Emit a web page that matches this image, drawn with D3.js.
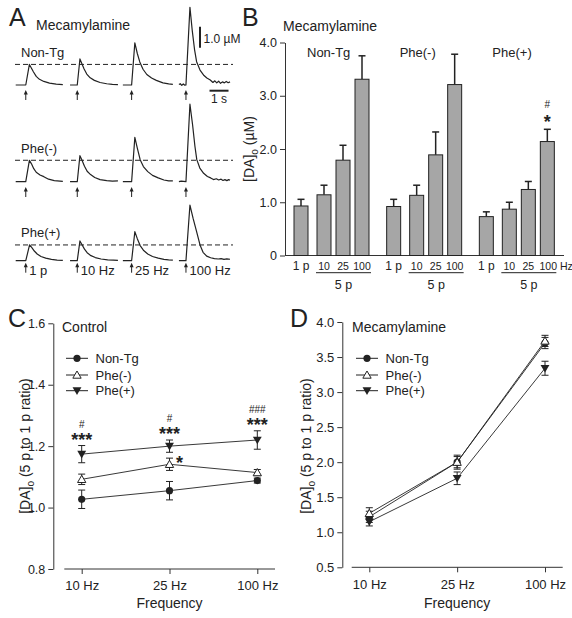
<!DOCTYPE html>
<html><head><meta charset="utf-8">
<script src="https://cdn.jsdelivr.net/npm/d3@7"></script>
<style>
body{margin:0;background:#fff;}
svg{display:block;font-family:"Liberation Sans",Arial,Helvetica,sans-serif;}
</style>
</head><body>
<svg id="fig" width="572" height="618"></svg>
<script>
// ---------------- DATA ----------------
// Panel A: traces, [time rel. to stimulus (s), [DA]o (µM)]
const traceGroups = ["Non-Tg", "Phe(-)", "Phe(+)"];
const stimLabels = ["1 p", "10 Hz", "25 Hz", "100 Hz"];
const stimOnsets = [0.53, 3.24, 6.1, 8.96]; // s
const tracesNonTg = [
  [[-0.53,0],[0,0],[0.19,0.98],[0.3,0.8],[0.4,0.63],[0.55,0.41],[0.72,0.27],[0.95,0.17],[1.25,0.09],[1.6,0.04],[1.95,0.02]],
  [[-0.38,0],[0,0],[0.14,1.24],[0.25,1.0],[0.36,0.76],[0.5,0.52],[0.68,0.34],[0.9,0.22],[1.2,0.12],[1.55,0.06],[1.85,0.03],[2.14,0.02]],
  [[-0.46,0],[0,0],[0.17,2.01],[0.3,1.5],[0.43,1.1],[0.6,0.75],[0.8,0.5],[1.05,0.33],[1.3,0.22],[1.65,0.1],[1.95,0.05],[2.17,0.03]],
  [[-0.37,0.02],[-0.3,0.06],[-0.22,-0.02],[-0.14,0.05],[-0.06,-0.01],[0,0],[0.21,3.7],[0.33,2.6],[0.45,1.7],[0.56,1.11],[0.74,0.71],[0.95,0.45],[1.1,0.33],[1.28,0.24],[1.42,0.12],[1.52,0.2],[1.62,0.1],[1.72,0.18],[1.82,0.08],[1.92,0.15],[2.02,0.1],[2.12,0.17],[2.22,0.11],[2.32,0.15]]
];
const tracesPheMinus = [
  [[-0.53,0],[0,0],[0.19,1.02],[0.3,0.85],[0.42,0.62],[0.55,0.45],[0.75,0.32],[0.95,0.24],[1.2,0.12],[1.5,0.05],[1.95,0.02]],
  [[-0.38,0],[0,0],[0.14,1.24],[0.25,1.02],[0.38,0.74],[0.52,0.5],[0.7,0.34],[0.92,0.2],[1.2,0.1],[1.55,0.05],[1.85,0.03],[2.14,0.04]],
  [[-0.46,0],[0,0],[0.17,2.11],[0.3,1.6],[0.45,1.05],[0.62,0.72],[0.85,0.48],[1.1,0.3],[1.4,0.18],[1.7,0.08],[1.95,0.04],[2.17,0.04]],
  [[-0.37,0],[-0.25,0.03],[0,0],[0.21,3.69],[0.35,2.7],[0.47,1.7],[0.57,1.05],[0.73,0.65],[0.93,0.4],[1.13,0.25],[1.3,0.18],[1.45,0.1],[1.6,0.14],[1.72,0.08],[1.85,0.12],[1.95,0.06],[2.05,0.1],[2.15,0.05],[2.25,0.1],[2.32,0.07]]
];
const tracesPhePlus = [
  [[-0.53,0],[0,0],[0.2,0.75],[0.32,0.62],[0.45,0.46],[0.6,0.32],[0.8,0.2],[1.05,0.12],[1.35,0.06],[1.65,0.03],[1.95,0.02]],
  [[-0.38,0],[0,0],[0.14,0.94],[0.25,0.76],[0.38,0.55],[0.52,0.38],[0.72,0.24],[0.95,0.15],[1.25,0.08],[1.6,0.04],[1.9,0.03],[2.14,0.02]],
  [[-0.46,0],[0,0],[0.17,1.38],[0.3,1.05],[0.45,0.72],[0.62,0.5],[0.85,0.32],[1.1,0.2],[1.4,0.12],[1.7,0.06],[1.95,0.04],[2.17,0.03]],
  [[-0.37,0],[0,0],[0.21,2.65],[0.38,2.0],[0.56,1.38],[0.74,0.75],[0.9,0.4],[1.09,0.22],[1.3,0.14],[1.5,0.1],[1.7,0.08],[1.85,0.1],[2.0,0.06],[2.15,0.09],[2.32,0.07]]
];

// Panel B: bars, [DA]o (µM)
const barGroups = ["Non-Tg", "Phe(-)", "Phe(+)"];
const barConds = ["1 p", "10", "25", "100"];
const barNonTg = [0.93, 1.14, 1.79, 3.31];
const barNonTgErr = [0.125, 0.18, 0.28, 0.44];
const barPheMinus = [0.92, 1.13, 1.89, 3.21];
const barPheMinusErr = [0.135, 0.19, 0.43, 0.57];
const barPhePlus = [0.73, 0.87, 1.24, 2.14];
const barPhePlusErr = [0.09, 0.13, 0.15, 0.23];
const barTicks = [0, 1, 2, 3, 4];

// Panels C & D: ratio 5 p / 1 p
const freqs = ["10 Hz", "25 Hz", "100 Hz"];
const ctrlNonTg = [1.027, 1.055, 1.088];
const ctrlNonTgErr = [0.03, 0.03, 0.008];
const ctrlPheMinus = [1.092, 1.141, 1.114];
const ctrlPheMinusErr = [0.017, 0.02, 0.01];
const ctrlPhePlus = [1.174, 1.2, 1.22];
const ctrlPhePlusErr = [0.028, 0.02, 0.03];
const ctrlTicks = [0.8, 1.0, 1.2, 1.4, 1.6];
const ctrlHash = ["#", "#", "###"];
const mecNonTg = [1.22, 2.0, 3.7];
const mecNonTgErr = [0.08, 0.08, 0.08];
const mecPheMinus = [1.27, 2.0, 3.73];
const mecPheMinusErr = [0.08, 0.1, 0.08];
const mecPhePlus = [1.15, 1.77, 3.34];
const mecPhePlusErr = [0.06, 0.09, 0.1];
const mecTicks = [0.5, 1.0, 1.5, 2.0, 2.5, 3.0, 3.5, 4.0];

// ---------------- DRAW ----------------
const INK = "#222";
const AX = "#333";
const svg = d3.select("#fig");

function txt(g, x, y, s, o = {}) {
  const t = g.append("text").attr("x", x).attr("y", y).text(s)
    .attr("font-size", o.size || 13).attr("fill", o.fill || INK)
    .attr("text-anchor", o.anchor || "start");
  if (o.weight) t.attr("font-weight", o.weight);
  return t;
}
function daLabel(g, x, y, rest, size) {
  const t = g.append("text").attr("transform", `translate(${x},${y}) rotate(-90)`)
    .attr("text-anchor", "middle").attr("font-size", size).attr("fill", INK);
  t.append("tspan").text("[DA]");
  t.append("tspan").text("o").attr("font-size", size * 0.72).attr("dy", 4);
  t.append("tspan").text(" " + rest).attr("dy", -4);
}

// ===== Panel A =====
const gA = svg.append("g");
txt(gA, 9, 26, "A", {size: 25});
txt(gA, 36, 30, "Mecamylamine", {size: 14});
const aX = d3.scaleLinear().domain([0, 11.32]).range([15.7, 230.8]);
const rowBase = [85, 181.7, 260.7];
const rowLabelY = [57, 153, 237];
const arrowTop = [90, 187, 262.7];
const rowTraces = [tracesNonTg, tracesPheMinus, tracesPhePlus];
rowTraces.forEach((traces, r) => {
  const y = d3.scaleLinear().domain([0, 1]).range([rowBase[r], rowBase[r] - 21]);
  const ref = d3.max(traces[0], d => d[1]);
  gA.append("line").attr("x1", 15).attr("x2", 233).attr("y1", y(ref)).attr("y2", y(ref))
    .attr("stroke", INK).attr("stroke-width", 1).attr("stroke-dasharray", "5,3");
  traces.forEach((tr, i) => {
    const line = d3.line().x(d => aX(stimOnsets[i] + d[0])).y(d => y(d[1]));
    gA.append("path").attr("d", line(tr)).attr("fill", "none").attr("stroke", INK)
      .attr("stroke-width", 1.2).attr("stroke-linejoin", "round");
  });
  txt(gA, 21, rowLabelY[r], traceGroups[r], {size: 13});
  stimOnsets.forEach((s, i) => {
    const x = aX(s), t = arrowTop[r];
    gA.append("line").attr("x1", x).attr("x2", x).attr("y1", t + 3).attr("y2", t + 10)
      .attr("stroke", INK).attr("stroke-width", 1);
    gA.append("path").attr("d", `M${x - 2},${t + 4.5}L${x + 2},${t + 4.5}L${x},${t}Z`).attr("fill", INK);
    if (r === 2) txt(gA, x + 3.5, 274.5, stimLabels[i], {size: 13});
  });
});
// scale bars
{
  const y0 = d3.scaleLinear().domain([0, 1]).range([47.7, 26.7]);
  gA.append("line").attr("x1", 200).attr("x2", 200).attr("y1", y0(0)).attr("y2", y0(1))
    .attr("stroke", INK).attr("stroke-width", 2);
  txt(gA, 203.5, 43, "1.0 µM", {size: 12});
  gA.append("line").attr("x1", aX(10.2)).attr("x2", aX(11.2)).attr("y1", 90.7).attr("y2", 90.7)
    .attr("stroke", INK).attr("stroke-width", 2);
  txt(gA, (aX(10.2) + aX(11.2)) / 2, 103, "1 s", {size: 12, anchor: "middle"});
}

// ===== Panel B =====
const gB = svg.append("g");
txt(gB, 242, 26, "B", {size: 25});
txt(gB, 283, 31, "Mecamylamine", {size: 14});
const yB = d3.scaleLinear().domain([0, 4]).range([255.5, 42.5]);
const xGroup = d3.scaleBand().domain(barGroups).range([294, 572]);
const xInner = d3.scaleOrdinal().domain(barConds).range([0, 23, 42, 61]);
const bw = 14;
const yAxB = gB.append("g").attr("transform", "translate(285,0)")
  .call(d3.axisLeft(yB).tickValues(barTicks).tickSize(5).tickSizeOuter(0)
    .tickFormat(d => d === 0 ? "0" : d3.format(".1f")(d)));
yAxB.selectAll("path,line").attr("stroke", AX);
yAxB.selectAll("text").attr("font-size", 12.5).attr("fill", INK).attr("font-family", null);
gB.append("line").attr("x1", 285).attr("x2", 564).attr("y1", yB(0)).attr("y2", yB(0)).attr("stroke", AX);
daLabel(gB, 253.5, 149, "(µM)", 14);
const barVals = [barNonTg, barPheMinus, barPhePlus];
const barErrs = [barNonTgErr, barPheMinusErr, barPhePlusErr];
barGroups.forEach((g, gi) => {
  const gx = xGroup(g);
  txt(gB, gx + 13, 57, g, {size: 13});
  barConds.forEach((c, ci) => {
    const x = gx + xInner(c);
    const v = barVals[gi][ci], e = barErrs[gi][ci];
    const cx = x + bw / 2;
    gB.append("line").attr("x1", cx).attr("x2", cx).attr("y1", yB(v)).attr("y2", yB(v + e))
      .attr("stroke", INK).attr("stroke-width", 1.5);
    gB.append("line").attr("x1", cx - 3.5).attr("x2", cx + 3.5).attr("y1", yB(v + e)).attr("y2", yB(v + e))
      .attr("stroke", INK).attr("stroke-width", 1.5);
    gB.append("rect").attr("x", x).attr("y", yB(v)).attr("width", bw).attr("height", yB(0) - yB(v))
      .attr("fill", "#a6a6a6").attr("stroke", INK).attr("stroke-width", 1);
    if (ci === 0) txt(gB, cx, 270, c, {size: 12, anchor: "middle"});
    else if (gi === 2 && ci === 3) txt(gB, cx - 7.8, 270, c + " Hz", {size: 10.5});
    else txt(gB, cx, 270, c, {size: 10.5, anchor: "middle"});
  });
  const x1 = gx + xInner("10") - 1, x2 = gx + xInner("100") + bw + 2;
  gB.append("line").attr("x1", x1).attr("x2", x2).attr("y1", 272.7).attr("y2", 272.7).attr("stroke", INK);
  txt(gB, (x1 + x2) / 2, 289, "5 p", {size: 12.5, anchor: "middle"});
  if (gi === 2) {
    const cx = gx + xInner("100") + bw / 2;
    const top = yB(barPhePlus[3] + barPhePlusErr[3]);
    txt(gB, cx, top - 1, "*", {size: 18, weight: "bold", anchor: "middle"});
    txt(gB, cx, top - 21, "#", {size: 10, anchor: "middle"});
  }
});

// ===== Panels C & D (line plots) =====
function marker(g, kind, x, y) {
  if (kind === 0) g.append("circle").attr("cx", x).attr("cy", y).attr("r", 3.6).attr("fill", INK);
  else if (kind === 1) g.append("path").attr("d", d3.symbol(d3.symbolTriangle, 30)())
    .attr("transform", `translate(${x},${y + 0.8})`).attr("fill", "#fff").attr("stroke", INK).attr("stroke-width", 1);
  else g.append("path").attr("d", d3.symbol(d3.symbolTriangle, 34)())
    .attr("transform", `translate(${x},${y - 0.8}) rotate(180)`).attr("fill", INK);
}
function linePanel(cfg) {
  const g = svg.append("g");
  const x = d3.scalePoint().domain(freqs).range(cfg.xr);
  const y = d3.scaleLinear().domain(cfg.yd).range(cfg.yr);
  const ay = g.append("g").attr("transform", `translate(${cfg.ax},0)`)
    .call(d3.axisLeft(y).tickValues(cfg.ticks).tickSize(5).tickSizeOuter(0).tickFormat(d3.format(".1f")));
  ay.selectAll("path,line").attr("stroke", AX);
  ay.selectAll("text").attr("font-size", cfg.tickSize).attr("fill", INK).attr("font-family", null);
  const axb = g.append("g").attr("transform", `translate(0,${cfg.yr[0]})`)
    .call(d3.axisBottom(x).tickSize(5).tickSizeOuter(0).tickPadding(7));
  axb.select(".domain").remove();
  axb.selectAll("line").attr("stroke", AX);
  axb.selectAll("text").attr("font-size", 13).attr("fill", INK).attr("font-family", null);
  g.append("line").attr("x1", cfg.xl[0]).attr("x2", cfg.xl[1]).attr("y1", cfg.yr[0]).attr("y2", cfg.yr[0]).attr("stroke", AX);
  txt(g, (cfg.xr[0] + cfg.xr[1]) / 2, 608, "Frequency", {size: 14, anchor: "middle"});
  daLabel(g, cfg.labX, 446, "(5 p to 1 p ratio)", 14);
  txt(g, cfg.letterX, 327, cfg.letter, {size: 25});
  txt(g, cfg.titleX, 332, cfg.title, {size: 14});
  cfg.series.forEach((s, k) => {
    const ln = d3.line().x((d, i) => x(freqs[i])).y(d => y(d));
    g.append("path").attr("d", ln(s.v)).attr("fill", "none").attr("stroke", INK).attr("stroke-width", 0.9);
  });
  cfg.series.forEach((s, k) => {
    s.v.forEach((v, i) => {
      const cx = x(freqs[i]);
      const e = s.e[i];
      g.append("line").attr("x1", cx).attr("x2", cx).attr("y1", y(v - e)).attr("y2", y(v + e)).attr("stroke", INK);
      [v - e, v + e].forEach(w => g.append("line").attr("x1", cx - 3.5).attr("x2", cx + 3.5)
        .attr("y1", y(w)).attr("y2", y(w)).attr("stroke", INK));
      marker(g, k, cx, y(v));
    });
  });
  // legend
  const ly = [358.3, 375, 390.7];
  cfg.series.forEach((s, k) => {
    g.append("line").attr("x1", cfg.legX).attr("x2", cfg.legX + 22).attr("y1", ly[k]).attr("y2", ly[k]).attr("stroke", INK);
    marker(g, k, cfg.legX + 11, ly[k]);
    txt(g, cfg.legX + 29.5, ly[k], s.name, {size: 13}).attr("dy", "0.36em");
  });
  return {g, x, y};
}

const C = linePanel({
  xr: [81.7, 257.3], xl: [64.3, 275], yd: [0.8, 1.6], yr: [569, 323.3], ax: 53.3,
  ticks: ctrlTicks, tickSize: 12.5, labX: 29.5, letter: "C", letterX: 8, title: "Control", titleX: 62,
  legX: 66,
  series: [
    {name: "Non-Tg", v: ctrlNonTg, e: ctrlNonTgErr},
    {name: "Phe(-)", v: ctrlPheMinus, e: ctrlPheMinusErr},
    {name: "Phe(+)", v: ctrlPhePlus, e: ctrlPhePlusErr}
  ]
});
freqs.forEach((f, i) => {
  const cx = C.x(f);
  const top = C.y(ctrlPhePlus[i] + ctrlPhePlusErr[i]);
  txt(C.g, cx, top, "***", {size: 18, weight: "bold", anchor: "middle"});
  txt(C.g, cx, top - 18, ctrlHash[i], {size: 10, anchor: "middle"});
});
txt(C.g, C.x("25 Hz") + 10, C.y(ctrlPheMinus[1] + ctrlPheMinusErr[1]) + 11, "*", {size: 18, weight: "bold", anchor: "middle"});

linePanel({
  xr: [369.3, 545], xl: [351.7, 562.7], yd: [0.5, 4.0], yr: [567.3, 322], ax: 342.3,
  ticks: mecTicks, tickSize: 13, labX: 310.5, letter: "D", letterX: 290, title: "Mecamylamine", titleX: 352,
  legX: 356,
  series: [
    {name: "Non-Tg", v: mecNonTg, e: mecNonTgErr},
    {name: "Phe(-)", v: mecPheMinus, e: mecPheMinusErr},
    {name: "Phe(+)", v: mecPhePlus, e: mecPhePlusErr}
  ]
});
</script>
</body></html>
